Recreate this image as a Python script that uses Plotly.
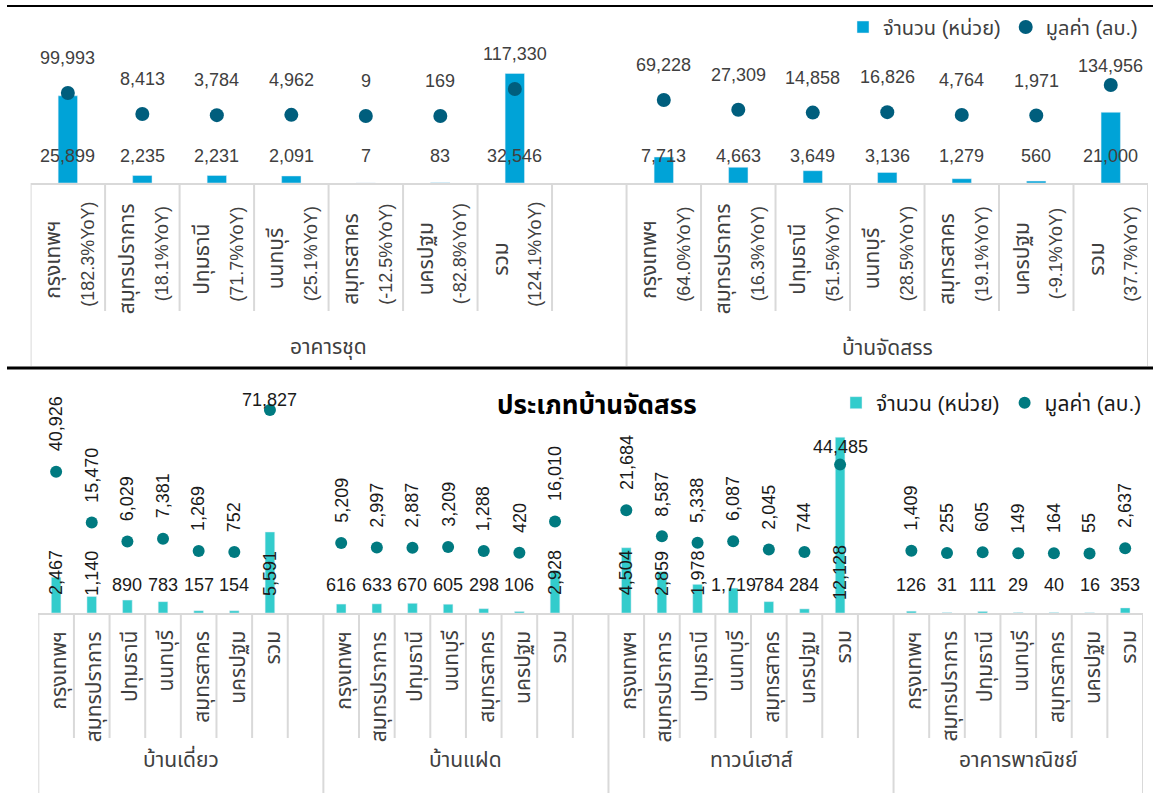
import plotly.graph_objects as go

# ---------------- data ----------------
provinces = ["กรุงเทพฯ", "สมุทรปราการ", "ปทุมธานี", "นนทบุรี", "สมุทรสาคร", "นครปฐม", "รวม"]

top_groups = ["อาคารชุด", "บ้านจัดสรร"]
condo_units = [25899, 2235, 2231, 2091, 7, 83, 32546]
condo_value = [99993, 8413, 3784, 4962, 9, 169, 117330]
condo_yoy = ["182.3%", "18.1%", "71.7%", "25.1%", "-12.5%", "-82.8%", "124.1%"]
estate_units = [7713, 4663, 3649, 3136, 1279, 560, 21000]
estate_value = [69228, 27309, 14858, 16826, 4764, 1971, 134956]
estate_yoy = ["64.0%", "16.3%", "51.5%", "28.5%", "19.1%", "-9.1%", "37.7%"]

bottom_groups = ["บ้านเดี่ยว", "บ้านแฝด", "ทาวน์เฮาส์", "อาคารพาณิชย์"]
detached_units = [2467, 1140, 890, 783, 157, 154, 5591]
detached_value = [40926, 15470, 6029, 7381, 1269, 752, 71827]
twin_units = [616, 633, 670, 605, 298, 106, 2928]
twin_value = [5209, 2997, 2887, 3209, 1288, 420, 16010]
town_units = [4504, 2859, 1978, 1719, 784, 284, 12128]
town_value = [21684, 8587, 5338, 6087, 2045, 744, 44485]
shop_units = [126, 31, 111, 29, 40, 16, 353]
shop_value = [1409, 255, 605, 149, 164, 55, 2637]

title_bottom = "ประเภทบ้านจัดสรร"
legend_units = "จำนวน (หน่วย)"
legend_value = "มูลค่า (ลบ.)"

# ---------------- styles ----------------
W, H = 1153, 793
TOP_BAR = "#00A3D7"
TOP_DOT = "#005E7D"
BOT_BAR = "#33CCCC"
BOT_DOT = "#007A80"
GRID = "#D9D9D9"
TXT_TOP = "#404040"
TXT_BOT = "#1A1A1A"
FONT = "Arial, 'Noto Sans Thai', Tahoma, sans-serif"
FS = 18          # numbers
FS_TH = 21       # Thai text

# label placement styles
top_dot_label_shift = [[35] * 7, [35] * 6 + [19]]
bar_label_vertical = [
    [1, 1, 0, 0, 0, 0, 1],
    [0, 0, 0, 0, 0, 0, 1],
    [1, 1, 1, 0, 0, 0, 1],
    [0, 0, 0, 0, 0, 0, 0],
]
dot_label_vertical = [
    [1, 1, 1, 1, 1, 1, 0],
    [1, 1, 1, 1, 1, 1, 1],
    [1, 1, 1, 1, 1, 1, 0],
    [1, 1, 1, 1, 1, 1, 1],
]
dot_label_hshift = [[0, 0, 0, 0, 0, 0, 10], [0] * 7, [0, 0, 0, 0, 0, 0, 18], [0] * 7]


def py(p):
    return 1 - p / H


# slot layout: 7 categories + 1 blank slot per group
SLOTS = len(provinces) + 1

top_units = [condo_units, estate_units]
top_value = [condo_value, estate_value]
top_yoy = [condo_yoy, estate_yoy]
bot_units = [detached_units, twin_units, town_units, shop_units]
bot_value = [detached_value, twin_value, town_value, shop_value]

top_x, top_u, top_v = [], [], []
for g in range(len(top_groups)):
    for i in range(len(provinces)):
        top_x.append(g * SLOTS + i)
        top_u.append(top_units[g][i])
        top_v.append(top_value[g][i])

bot_x, bot_u, bot_v = [], [], []
for g in range(len(bottom_groups)):
    for i in range(len(provinces)):
        bot_x.append(g * SLOTS + i)
        bot_u.append(bot_units[g][i])
        bot_v.append(bot_value[g][i])

top_n = (len(top_groups) - 1) * SLOTS + len(provinces)
bot_n = (len(bottom_groups) - 1) * SLOTS + len(provinces)

fig = go.Figure()
fig.add_trace(go.Bar(x=top_x, y=top_u, width=0.26, marker_color=TOP_BAR,
                     name=legend_units, xaxis="x", yaxis="y", legend="legend"))
fig.add_trace(go.Scatter(x=top_x, y=top_v, mode="markers", name=legend_value,
                         marker=dict(color=TOP_DOT, size=14), xaxis="x", yaxis="y2",
                         legend="legend", cliponaxis=False))
fig.add_trace(go.Bar(x=bot_x, y=bot_u, width=0.27, marker_color=BOT_BAR,
                     name=legend_units, xaxis="x2", yaxis="y3", legend="legend2"))
fig.add_trace(go.Scatter(x=bot_x, y=bot_v, mode="markers", name=legend_value,
                         marker=dict(color=BOT_DOT, size=12), xaxis="x2", yaxis="y4",
                         legend="legend2", cliponaxis=False))

ann = []
shapes = []

# ---- top chart labels ----
for k, x in enumerate(top_x):
    g, i = divmod(k, len(provinces))
    ann.append(dict(x=x, y=0, xref="x", yref="y", text=f"{top_u[k]:,}", showarrow=False,
                    yanchor="middle", yshift=27, font=dict(size=FS, color=TXT_TOP, family=FONT)))
    ann.append(dict(x=x, y=top_v[k], xref="x", yref="y2", text=f"{top_v[k]:,}", showarrow=False,
                    yanchor="middle", yshift=top_dot_label_shift[g][i],
                    font=dict(size=FS, color=TXT_TOP, family=FONT)))
    ann.append(dict(x=x, y=py(259), xref="x", yref="paper", text=provinces[i], showarrow=False,
                    textangle=-90, xanchor="center", yanchor="middle", xshift=-15,
                    font=dict(size=FS_TH, color=TXT_TOP, family=FONT)))
    ann.append(dict(x=x, y=py(254), xref="x", yref="paper", text=f"({top_yoy[g][i]}YoY)",
                    showarrow=False, textangle=-90, xanchor="center", yanchor="middle",
                    xshift=20, font=dict(size=FS, color=TXT_TOP, family=FONT)))
for g, name in enumerate(top_groups):
    lo = g * SLOTS - 0.5
    hi = min((g + 1) * SLOTS, top_n) - 0.5
    ann.append(dict(x=(lo + hi) / 2, y=py(347), xref="x", yref="paper", text=name,
                    showarrow=False, font=dict(size=FS_TH, color=TXT_TOP, family=FONT)))

for k in range(top_n + 1):
    xb = k - 0.5
    long_line = (k % SLOTS == 0) or k == top_n
    shapes.append(dict(type="line", xref="x", yref="paper", x0=xb, x1=xb,
                       y0=py(183), y1=py(366 if long_line else 311),
                       line=dict(color=GRID, width=2)))

# ---- bottom chart labels ----
for k, x in enumerate(bot_x):
    g, i = divmod(k, len(provinces))
    if bar_label_vertical[g][i]:
        ann.append(dict(x=x, y=0, xref="x2", yref="y3", text=f"{bot_u[k]:,}", showarrow=False,
                        textangle=-90, yanchor="middle", yshift=40,
                        font=dict(size=FS, color=TXT_BOT, family=FONT)))
    else:
        ann.append(dict(x=x, y=0, xref="x2", yref="y3", text=f"{bot_u[k]:,}", showarrow=False,
                        yanchor="middle", yshift=28,
                        font=dict(size=FS, color=TXT_BOT, family=FONT)))
    if dot_label_vertical[g][i]:
        ann.append(dict(x=x, y=bot_v[k], xref="x2", yref="y4", text=f"{bot_v[k]:,}", showarrow=False,
                        textangle=-90, yanchor="bottom", yshift=18,
                        font=dict(size=FS, color=TXT_BOT, family=FONT)))
    else:
        ann.append(dict(x=x, y=bot_v[k], xref="x2", yref="y4", text=f"{bot_v[k]:,}", showarrow=False,
                        yanchor="middle", yshift=dot_label_hshift[g][i],
                        font=dict(size=FS, color=TXT_BOT, family=FONT)))
    ann.append(dict(x=x, y=py(629), xref="x2", yref="paper", text=provinces[i], showarrow=False,
                    textangle=-90, xanchor="center", yanchor="top", xshift=3,
                    font=dict(size=FS_TH, color=TXT_TOP, family=FONT)))
for g, name in enumerate(bottom_groups):
    lo = g * SLOTS - 0.5
    hi = min((g + 1) * SLOTS, bot_n) - 0.5
    ann.append(dict(x=(lo + hi) / 2, y=py(773), xref="x2", yref="paper", text=name,
                    showarrow=False, font=dict(size=FS_TH, color=TXT_TOP, family=FONT)))

for k in range(bot_n + 1):
    xb = k - 0.5
    long_line = (k % SLOTS == 0) or k == bot_n
    shapes.append(dict(type="line", xref="x2", yref="paper", x0=xb, x1=xb,
                       y0=py(613), y1=py(793 if long_line else 738),
                       line=dict(color=GRID, width=2)))

ann.append(dict(x=597 / W, y=py(405), xref="paper", yref="paper",
                text=f"<b>{title_bottom}</b>", showarrow=False,
                font=dict(size=26, color="#000000", family=FONT)))

# black frame lines
shapes.append(dict(type="line", xref="paper", yref="paper", x0=7 / W, x1=1, y0=py(6), y1=py(6),
                   line=dict(color="#000000", width=2)))
shapes.append(dict(type="line", xref="paper", yref="paper", x0=7 / W, x1=1, y0=py(368), y1=py(368),
                   line=dict(color="#000000", width=3)))

top_dom_top = 40
bot_dom_top = 405
fig.update_layout(
    width=W, height=H,
    margin=dict(l=0, r=0, t=0, b=0),
    paper_bgcolor="white", plot_bgcolor="white",
    font=dict(family=FONT, size=FS, color=TXT_TOP),
    barmode="overlay",
    xaxis=dict(domain=[30.6 / W, 1148 / W], range=[-0.5, top_n - 0.5], anchor="y",
               showline=True, linecolor=GRID, linewidth=2, showticklabels=False,
               showgrid=False, zeroline=False, ticks=""),
    yaxis=dict(domain=[py(183), py(top_dom_top)], range=[0, (183 - top_dom_top) * 297],
               visible=False, anchor="x"),
    yaxis2=dict(overlaying="y", range=[-67 * 4345, (183 - top_dom_top - 67) * 4345],
                visible=False, anchor="x"),
    xaxis2=dict(domain=[38.3 / W, 1143 / W], range=[-0.5, bot_n - 0.5], anchor="y3",
                showline=True, linecolor=GRID, linewidth=2, showticklabels=False,
                showgrid=False, zeroline=False, ticks=""),
    yaxis3=dict(domain=[py(613), py(bot_dom_top)], range=[0, (613 - bot_dom_top) * 69],
                visible=False, anchor="x2"),
    yaxis4=dict(overlaying="y3", range=[-59.5 * 500.5, (613 - bot_dom_top - 59.5) * 500.5],
                visible=False, anchor="x2"),
    legend=dict(orientation="h", x=1143 / W, xanchor="right", y=py(27), yanchor="middle",
                font=dict(size=20, color=TXT_TOP, family=FONT), bgcolor="rgba(0,0,0,0)",
                itemwidth=30),
    legend2=dict(orientation="h", x=1147 / W, xanchor="right", y=py(403), yanchor="middle",
                 font=dict(size=FS_TH, color=TXT_BOT, family=FONT), bgcolor="rgba(0,0,0,0)",
                 itemwidth=30),
    annotations=ann,
    shapes=shapes,
)

fig.write_html("out.html")
